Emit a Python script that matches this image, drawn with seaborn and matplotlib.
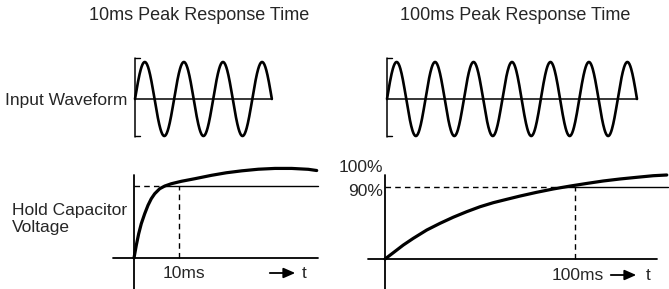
import matplotlib
matplotlib.use("Agg")
import matplotlib.pyplot as plt
import seaborn as sns
import numpy as np
import pandas as pd

# input waveform: sine, cycles shown in each panel
wave_cycles_fast = 3.5
wave_cycles_slow = 6.5
wave_peak = 1.0

# hold capacitor voltage (time in ms, level in %)
fast_t = [0, 0.51, 1.04, 1.62, 2.38, 3.11, 3.84, 4.6, 5.71, 6.82, 8.29, 10.51,
          13.49, 17.18, 20.51, 23.93, 27.62, 31.33, 35.04, 38.73, 40.6]
fast_v = [0, 15.8, 30.1, 42.6, 55.0, 65.4, 73.6, 79.8, 86.0, 89.3, 92.2, 95.2,
          98.4, 102.6, 105.8, 108.2, 110.2, 111.2, 111.2, 110.1, 108.6]
slow_t = [0, 4.37, 9.63, 14.89, 21.95, 28.95, 35.95, 43.0, 50.0, 57.0, 64.05,
          71.05, 79.84, 88.58, 97.37, 106.16, 114.9, 123.7, 132.5, 141.2, 148.3]
slow_v = [0, 7.9, 17.5, 25.9, 36.3, 44.7, 52.4, 59.3, 65.5, 70.6, 74.8,
          78.9, 83.6, 87.8, 91.4, 94.7, 97.8, 100.3, 102.4, 104.4, 105.3]

level_pct = 90
fast_mark, slow_mark = 10, 100
fast_cross, slow_cross = 7.4, 94.0

titles = ["10ms Peak Response Time", "100ms Peak Response Time"]
row_labels = ["Input Waveform", "Hold Capacitor\nVoltage"]
time_labels = ["10ms", "100ms"]
level_labels = ["100%", "90%"]

W, H = 669, 289
sns.set_theme(style="white")
plt.rcParams['font.family'] = ['Liberation Sans', 'DejaVu Sans']
fig = plt.figure(figsize=(W / 100, H / 100), dpi=100)


def px_axes(x0, y0, x1, y1, ox, oy, sx, sy):
    # axes placed in pixel rect (y down), data origin at pixel (ox, oy)
    ax = fig.add_axes([x0 / W, 1 - y1 / H, (x1 - x0) / W, (y1 - y0) / H])
    ax.set_xlim((x0 - ox) / sx, (x1 - ox) / sx)
    ax.set_ylim((oy - y1) / sy, (oy - y0) / sy)
    ax.axis('off')
    return ax


def ftext(x, y, s, **kw):
    fig.text(x / W, 1 - y / H, s, **kw)


k = dict(color='black', solid_capstyle='round', solid_joinstyle='round')

# --- input waveforms ---
for cycles, ox, sx in [(wave_cycles_fast, 135, 39.1), (wave_cycles_slow, 387, 38.46)]:
    ax = px_axes(ox - 10, 45, ox + 260, 145, ox, 99, sx, 37)
    t = np.linspace(0, cycles, 600)
    wave = pd.DataFrame({'t': t, 'v': wave_peak * np.sin(2 * np.pi * t)})
    sns.lineplot(data=wave, x='t', y='v', ax=ax, lw=1.9, **k)
    ax.plot([0, cycles], [0, 0], lw=1.1, color='black')
    ax.plot([0, 0], [-1.02, 1.1], lw=1.1, color='black')
    ax.plot([0, 0.12], [1.1, 1.1], lw=1.0, color='black')
    ax.plot([0, 0.12], [-1.0, -1.0], lw=1.0, color='black')
    ax.axis('off')

# --- hold capacitor voltage ---
panels = [
    (fast_t, fast_v, fast_mark, fast_cross, 134, 258, 4.5, 72.5 / 90, 100, 330, -4.7, 40.9, 40.9),
    (slow_t, slow_v, slow_mark, slow_cross, 385, 259, 1.9, 71.8 / 90, 360, 669, -8.9, 143.2, 149.0),
]
for tt, vv, mark, cross, ox, oy, sx, sy, x0, x1, b0, b1, right in panels:
    ax = px_axes(x0, 150, x1, 289, ox, oy, sx, sy)
    ylo = ax.get_ylim()[0]
    top = (oy - 175) / sy
    ax.plot([0, 0], [ylo, top], lw=1.3, color='black')
    ax.plot([b0, b1], [0, 0], lw=1.3, color='black')
    ax.plot([0, cross], [level_pct, level_pct], lw=1.0, ls=(0, (4, 3)), color='black')
    ax.plot([cross, right], [level_pct, level_pct], lw=1.0, color='black')
    ax.plot([mark, mark], [0, level_pct], lw=1.0, ls=(0, (4, 3)), color='black')
    curve = pd.DataFrame({'t': tt, 'v': vv})
    sns.lineplot(data=curve, x='t', y='v', ax=ax, lw=2.3, **k)
    ax.axis('off')

# --- texts ---
ftext(199, 15, titles[0], ha='center', va='center', fontsize=13)
ftext(515, 15, titles[1], ha='center', va='center', fontsize=13)
ftext(5, 100, row_labels[0], ha='left', va='center', fontsize=12.5)
ftext(12, 219, row_labels[1], ha='left', va='center', fontsize=12.5, linespacing=1.1)
ftext(184, 273, time_labels[0], ha='center', va='center', fontsize=12.5)
ftext(578, 275, time_labels[1], ha='center', va='center', fontsize=12.5)
ftext(383, 167, level_labels[0], ha='right', va='center', fontsize=12.5)
ftext(383, 192, level_labels[1], ha='right', va='center', fontsize=12.5)

for xa, xb, xt, yy in [(267, 298, 304, 273), (608, 639, 648, 275)]:
    fig.add_artist(matplotlib.patches.FancyArrowPatch(
        (xa / W, 1 - yy / H), (xb / W, 1 - yy / H), transform=fig.transFigure,
        arrowstyle='-|>,head_length=0.5,head_width=0.22', mutation_scale=14,
        lw=1.3, color='black'))
    ftext(xt, yy, "t", ha='center', va='center', fontsize=12.5)

fig.savefig("out.png", dpi=100)
